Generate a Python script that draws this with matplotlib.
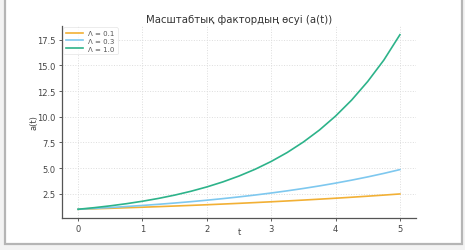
import matplotlib.pyplot as plt
from matplotlib.patches import Rectangle

# values at t = 0, 0.25, ..., 5
t = [0.0, 0.25, 0.5, 0.75, 1.0, 1.25, 1.5, 1.75, 2.0, 2.25, 2.5,
     2.75, 3.0, 3.25, 3.5, 3.75, 4.0, 4.25, 4.5, 4.75, 5.0]
a_01 = [1.00, 1.047, 1.095, 1.147, 1.200, 1.256, 1.315, 1.377, 1.440, 1.508, 1.578,
        1.652, 1.729, 1.810, 1.895, 1.983, 2.075, 2.172, 2.274, 2.380, 2.491]
a_03 = [1.00, 1.082, 1.171, 1.268, 1.372, 1.485, 1.607, 1.739, 1.882, 2.037, 2.205,
        2.386, 2.583, 2.795, 3.025, 3.274, 3.544, 3.835, 4.151, 4.492, 4.862]
a_10 = [1.00, 1.155, 1.335, 1.542, 1.781, 2.058, 2.377, 2.747, 3.174, 3.666, 4.236,
        4.893, 5.654, 6.530, 7.546, 8.715, 10.07, 11.63, 13.44, 15.52, 17.99]
labels = ['Λ = 0.1', 'Λ = 0.3', 'Λ = 1.0']
colors = ['#f2b035', '#7ec8ef', '#2db38a']

fig = plt.figure(figsize=(4.65, 2.51), dpi=100, facecolor='#f3f3f3')
# screenshot-like frame, kept behind the axes
fig.patches.append(Rectangle((5 / 465, 6 / 251), 457 / 465, 250 / 251,
                             transform=fig.transFigure, facecolor='white',
                             edgecolor='#b5b5b5', lw=1.6, zorder=-10))

ax = fig.add_axes([62 / 465, 32 / 251, 354 / 465, 192 / 251])
ax.set_facecolor('white')
for y, c, lab in zip([a_01, a_03, a_10], colors, labels):
    ax.plot(t, y, color=c, lw=1.2, label=lab)

ax.set_xlim(-0.25, 5.25)
ax.set_ylim(0.15, 18.84)
ax.set_xticks([0, 1, 2, 3, 4, 5])
ax.set_yticks([2.5, 5.0, 7.5, 10.0, 12.5, 15.0, 17.5])
ax.grid(True, color='#dddddd', ls=':', lw=0.7)
for s in ['top', 'right']:
    ax.spines[s].set_visible(False)
for s in ['left', 'bottom']:
    ax.spines[s].set_color('#555555')
    ax.spines[s].set_linewidth(0.9)
ax.tick_params(labelsize=6, colors='#444444', length=2.5, width=0.6, pad=2)

ax.set_title('Масштабтық фактордың өсуі (a(t))', fontsize=7.3, color='#333333', pad=3)
ax.set_xlabel('t', fontsize=6, color='#444444')
ax.set_ylabel('a(t)', fontsize=6, color='#444444')
ax.xaxis.set_label_coords(0.5, -0.045)
ax.yaxis.set_label_coords(-0.065, 0.5)
leg = ax.legend(loc='upper left', fontsize=5, frameon=True, handlelength=2.4,
                borderpad=0.4, labelspacing=0.25, borderaxespad=0.2)
leg.get_frame().set_edgecolor('#dddddd')
leg.get_frame().set_linewidth(0.5)
for txt in leg.get_texts():
    txt.set_color('#555555')

fig.savefig('out.png', dpi=100, facecolor=fig.get_facecolor())
